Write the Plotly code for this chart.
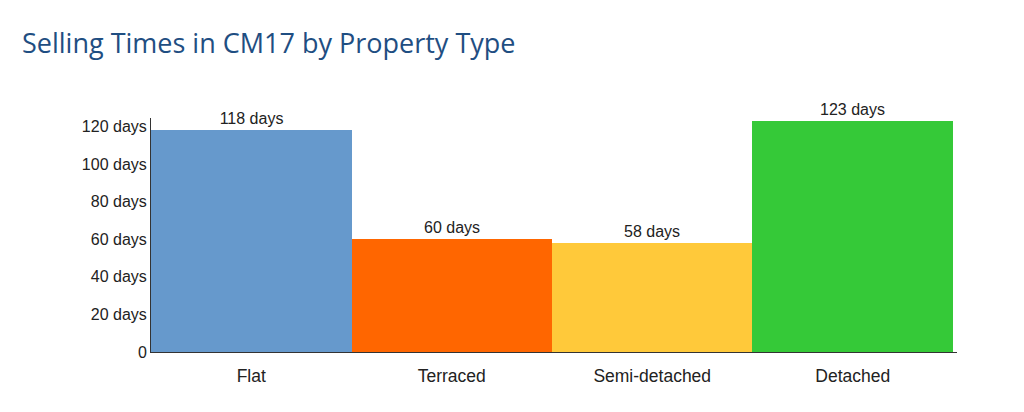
import plotly.graph_objects as go

categories = ["Flat", "Terraced", "Semi-detached", "Detached"]
days = [118, 60, 58, 123]
colors = ["#6699cc", "#ff6600", "#ffc93a", "#35c938"]
tick_vals = [0, 20, 40, 60, 80, 100, 120]
tick_text = ["0", "20 days", "40 days", "60 days", "80 days", "100 days", "120 days"]

W, H = 1016, 404

fig = go.Figure(go.Bar(
    x=categories,
    y=days,
    marker=dict(color=colors, line=dict(width=0)),
    text=[f"{d} days" for d in days],
    textposition="outside",
    textfont=dict(family="Liberation Sans, Arial", size=16, color="#222222"),
    cliponaxis=False,
    width=1,
))

fig.update_layout(
    width=W, height=H,
    margin=dict(l=143, r=67, t=110, b=60),
    paper_bgcolor="white", plot_bgcolor="white",
    bargap=0,
    showlegend=False,
    title=dict(
        text="Selling Times in CM17 by Property Type",
        x=14/W, xanchor="left", xref="container",
        y=1 - 36/H, yanchor="middle", yref="container",
        font=dict(family="Open Sans", size=27, color="#1f4e82"),
    ),
    font=dict(family="Liberation Sans, Arial", size=16, color="#222222"),
)
fig.update_xaxes(
    range=[-0.5, 3.52], showgrid=False, showline=True, linecolor="#333333", linewidth=1,
    ticks="", tickfont=dict(size=17.5, color="#222222"), ticklabelstandoff=8,
)
fig.update_yaxes(
    range=[0, 124.5], showgrid=False, showline=True, linecolor="#333333", linewidth=1,
    tickvals=tick_vals, ticktext=tick_text, ticks="", zeroline=False,
    tickfont=dict(size=16, color="#222222"),
)

fig.write_html("out.html")
